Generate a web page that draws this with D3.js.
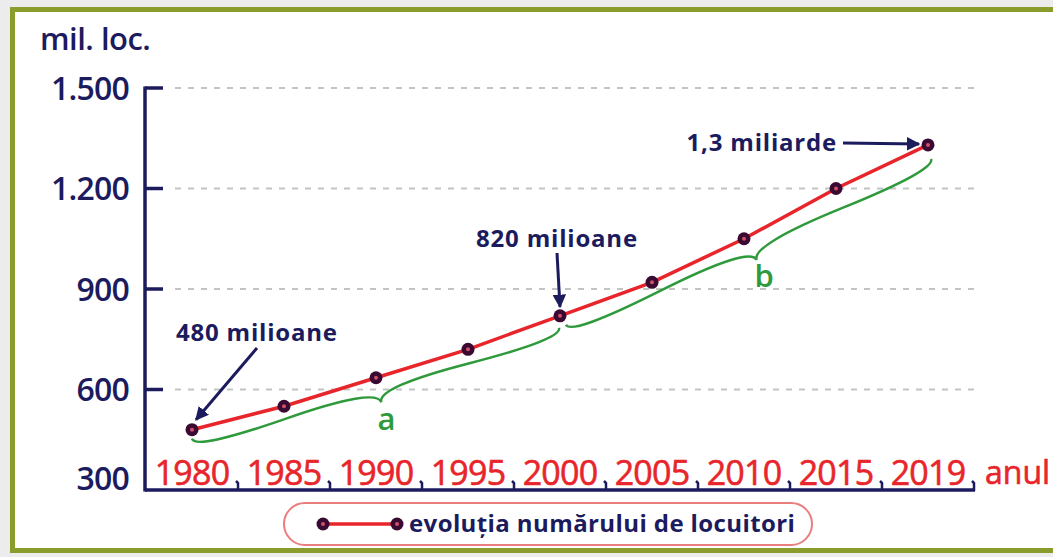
<!DOCTYPE html>
<html>
<head>
<meta charset="utf-8">
<script src="https://cdn.jsdelivr.net/npm/d3@7"></script>
<style>
  html, body { margin: 0; padding: 0; background: #ececec; }
  svg { display: block; }
</style>
</head>
<body>
<svg id="chart"></svg>
<script>
/** chart data */
var years = ["1980", "1985", "1990", "1995", "2000", "2005", "2010", "2015", "2019"];
var population = [480, 550, 635, 720, 820, 920, 1050, 1200, 1330];
var yTicks = [300, 600, 900, 1200, 1500];
var callouts = [
  {year: "1980", text: "480 milioane"},
  {year: "2000", text: "820 milioane"},
  {year: "2019", text: "1,3 miliarde"}
];
var braces = [
  {from: "1980", to: "2000", label: "a"},
  {from: "2000", to: "2019", label: "b"}
];
var yTitle = "mil. loc.";
var xTitle = "anul";
var legendText = "evoluția numărului de locuitori";

var width = 1053, height = 557;
var navy = "#1b1b5e", red = "#e8252b", green = "#2f9a3c", font = "'Open Sans', sans-serif";

var svg = d3.select("#chart").attr("width", width).attr("height", height);

/** grey surround and olive frame */
svg.append("rect").attr("width", width).attr("height", height).attr("fill", "#ececec");
svg.append("rect")
    .attr("x", 12.5).attr("y", 9.5)
    .attr("width", 1100).attr("height", 541)
    .attr("fill", "#fff")
    .attr("stroke", "#8a9c2c")
    .attr("stroke-width", 5);

var x = d3.scaleBand().domain(years).range([146, 974]);
var y = d3.scaleLinear().domain([300, 1500]).range([490, 88]);
var cx = function(yr) { return x(yr) + x.bandwidth() / 2; };
var valueOf = function(yr) { return population[years.indexOf(yr)]; };

var fmt = d3.formatLocale({decimal: ",", thousands: ".", grouping: [3], currency: ["", ""]}).format(",d");

/** dashed gridlines */
svg.append("g").selectAll("line")
  .data(yTicks.slice(1))
  .enter().append("line")
    .attr("x1", 175).attr("x2", 975)
    .attr("y1", function(d) { return y(d); })
    .attr("y2", function(d) { return y(d); })
    .attr("stroke", "#c4c4c4")
    .attr("stroke-width", 2)
    .attr("stroke-dasharray", "6,7");

/** y axis */
svg.append("line")
    .attr("x1", 145).attr("x2", 145)
    .attr("y1", y(1500) - 1.5).attr("y2", y(300) + 1.5)
    .attr("stroke", navy).attr("stroke-width", 3.5);
svg.append("g").selectAll("line")
  .data(yTicks.slice(1))
  .enter().append("line")
    .attr("x1", 145).attr("x2", 163)
    .attr("y1", function(d) { return y(d); })
    .attr("y2", function(d) { return y(d); })
    .attr("stroke", navy).attr("stroke-width", 3.5);
svg.append("g").selectAll("text")
  .data(yTicks)
  .enter().append("text")
    .attr("x", 129)
    .attr("y", function(d) { return Math.min(y(d), 478); })
    .attr("dy", "0.36em")
    .attr("text-anchor", "end")
    .attr("font-family", font)
    .attr("font-weight", 600)
    .attr("font-size", 32)
    .attr("letter-spacing", -0.8)
    .attr("fill", navy)
    .text(function(d) { return fmt(d); });

svg.append("text")
    .attr("x", 40).attr("y", 50)
    .attr("font-family", font)
    .attr("font-weight", 600)
    .attr("font-size", 31)
    .attr("letter-spacing", -0.5)
    .attr("fill", navy)
    .text(yTitle);

/** x axis with small comma-like ticks between the years */
svg.append("line")
    .attr("x1", 145).attr("x2", 975)
    .attr("y1", y(300)).attr("y2", y(300))
    .attr("stroke", navy).attr("stroke-width", 3.5);
svg.append("g").selectAll("path")
  .data(years)
  .enter().append("path")
    .attr("d", function(d) {
      var bx = x(d) + x.bandwidth();
      return "M" + bx + "," + (y(300) + 1) + "L" + bx + "," + (y(300) - 7) + "L" + (bx - 2) + "," + (y(300) - 9);
    })
    .attr("fill", "none")
    .attr("stroke", navy).attr("stroke-width", 2.5);
svg.append("g").selectAll("text")
  .data(years)
  .enter().append("text")
    .attr("x", function(d) { return cx(d); })
    .attr("y", 485)
    .attr("text-anchor", "middle")
    .attr("font-family", font)
    .attr("font-size", 34)
    .attr("letter-spacing", -0.8)
    .attr("stroke", red)
    .attr("stroke-width", 0.6)
    .attr("fill", red)
    .text(function(d) { return d; });
svg.append("text")
    .attr("x", 985).attr("y", 484)
    .attr("font-family", font)
    .attr("font-size", 32)
    .attr("stroke", red)
    .attr("stroke-width", 0.6)
    .attr("fill", red)
    .text(xTitle);

/** curly brace between two points, bulging to the lower right */
function bracePath(x1, y1, x2, y2, w, q) {
  var len = Math.sqrt((x2 - x1) * (x2 - x1) + (y2 - y1) * (y2 - y1));
  var ux = (x2 - x1) / len, uy = (y2 - y1) / len;
  var nx = -uy, ny = ux;
  var tx = x1 + 0.5 * len * ux + w * nx, ty = y1 + 0.5 * len * uy + w * ny;
  return "M" + x1 + "," + y1 +
    "Q" + (x1 + q * w * nx) + "," + (y1 + q * w * ny) + " " +
          (x1 + 0.25 * len * ux + (1 - q) * w * nx) + "," + (y1 + 0.25 * len * uy + (1 - q) * w * ny) +
    "T" + tx + "," + ty +
    "M" + x2 + "," + y2 +
    "Q" + (x2 + q * w * nx) + "," + (y2 + q * w * ny) + " " +
          (x1 + 0.75 * len * ux + (1 - q) * w * nx) + "," + (y1 + 0.75 * len * uy + (1 - q) * w * ny) +
    "T" + tx + "," + ty;
}

var braceG = svg.append("g");
braces.forEach(function(b, i) {
  var x1 = cx(b.from) + (i ? 6 : 0), y1 = y(valueOf(b.from)) + 9;
  var x2 = cx(b.to) - (i ? -3 : 1), y2 = y(valueOf(b.to)) + (i ? 14 : 12);
  var w = 20;
  braceG.append("path")
      .attr("d", bracePath(x1, y1, x2, y2, w, 0.6))
      .attr("fill", "none")
      .attr("stroke", green)
      .attr("stroke-width", 2.5);
  var len = Math.sqrt((x2 - x1) * (x2 - x1) + (y2 - y1) * (y2 - y1));
  var nx = -(y2 - y1) / len, ny = (x2 - x1) / len;
  braceG.append("text")
      .attr("x", (x1 + x2) / 2 + nx * (w + 18))
      .attr("y", (y1 + y2) / 2 + ny * (w + 18))
      .attr("dy", "0.35em")
      .attr("text-anchor", "middle")
      .attr("font-family", font)
      .attr("font-weight", 600)
      .attr("font-size", 31)
      .attr("fill", green)
      .text(b.label);
});

/** population line */
var line = d3.line()
    .x(function(d, i) { return cx(years[i]); })
    .y(function(d) { return y(d); });
svg.append("path")
    .datum(population)
    .attr("d", line)
    .attr("fill", "none")
    .attr("stroke", red)
    .attr("stroke-width", 3.5);

function marker(sel) {
  sel.append("circle").attr("r", 6.5).attr("fill", "#3a0a32");
  sel.append("circle").attr("r", 2).attr("fill", "#d0506a");
}
svg.append("g").selectAll("g")
  .data(population)
  .enter().append("g")
    .attr("transform", function(d, i) { return "translate(" + cx(years[i]) + "," + y(d) + ")"; })
    .call(marker);

/** callouts with arrows */
svg.append("defs").append("marker")
    .attr("id", "arrow")
    .attr("viewBox", "0 0 10 10")
    .attr("refX", 9).attr("refY", 5)
    .attr("markerWidth", 4.5).attr("markerHeight", 4.5)
    .attr("orient", "auto")
  .append("path")
    .attr("d", "M0,0L10,5L0,10z")
    .attr("fill", navy);

var calloutLayout = [
  {tx: 176, ty: 341, anchor: "start", ax1: 257, ay1: 348, dx: 4, dy: -10},
  {tx: 557, ty: 247, anchor: "middle", ax1: 557, ay1: 253, dx: 0, dy: -9},
  {tx: 837, ty: 151, anchor: "end", ax1: 843, ay1: 143, dx: -9, dy: -1}
];
callouts.forEach(function(c, i) {
  var L = calloutLayout[i];
  var px = cx(c.year), py = y(valueOf(c.year));
  svg.append("text")
      .attr("x", L.tx).attr("y", L.ty)
      .attr("text-anchor", L.anchor)
      .attr("font-family", font)
      .attr("font-weight", 700)
      .attr("font-size", 24)
      .attr("letter-spacing", 0.8)
      .attr("fill", navy)
      .text(c.text);
  svg.append("line")
      .attr("x1", L.ax1).attr("y1", L.ay1)
      .attr("x2", px + L.dx).attr("y2", py + L.dy)
      .attr("stroke", navy)
      .attr("stroke-width", 3)
      .attr("marker-end", "url(#arrow)");
});

/** legend */
var legend = svg.append("g");
legend.append("rect")
    .attr("x", 284).attr("y", 503)
    .attr("width", 528).attr("height", 42)
    .attr("rx", 21)
    .attr("fill", "#fff")
    .attr("stroke", "#ea7d7d")
    .attr("stroke-width", 2);
legend.append("line")
    .attr("x1", 323).attr("x2", 397)
    .attr("y1", 524).attr("y2", 524)
    .attr("stroke", red).attr("stroke-width", 3.5);
legend.selectAll("g")
  .data([323, 397])
  .enter().append("g")
    .attr("transform", function(d) { return "translate(" + d + ",524)"; })
    .call(marker);
legend.append("text")
    .attr("x", 409).attr("y", 532)
    .attr("font-family", font)
    .attr("font-weight", 700)
    .attr("font-size", 24)
    .attr("letter-spacing", 0.4)
    .attr("fill", navy)
    .text(legendText);
</script>
</body>
</html>
